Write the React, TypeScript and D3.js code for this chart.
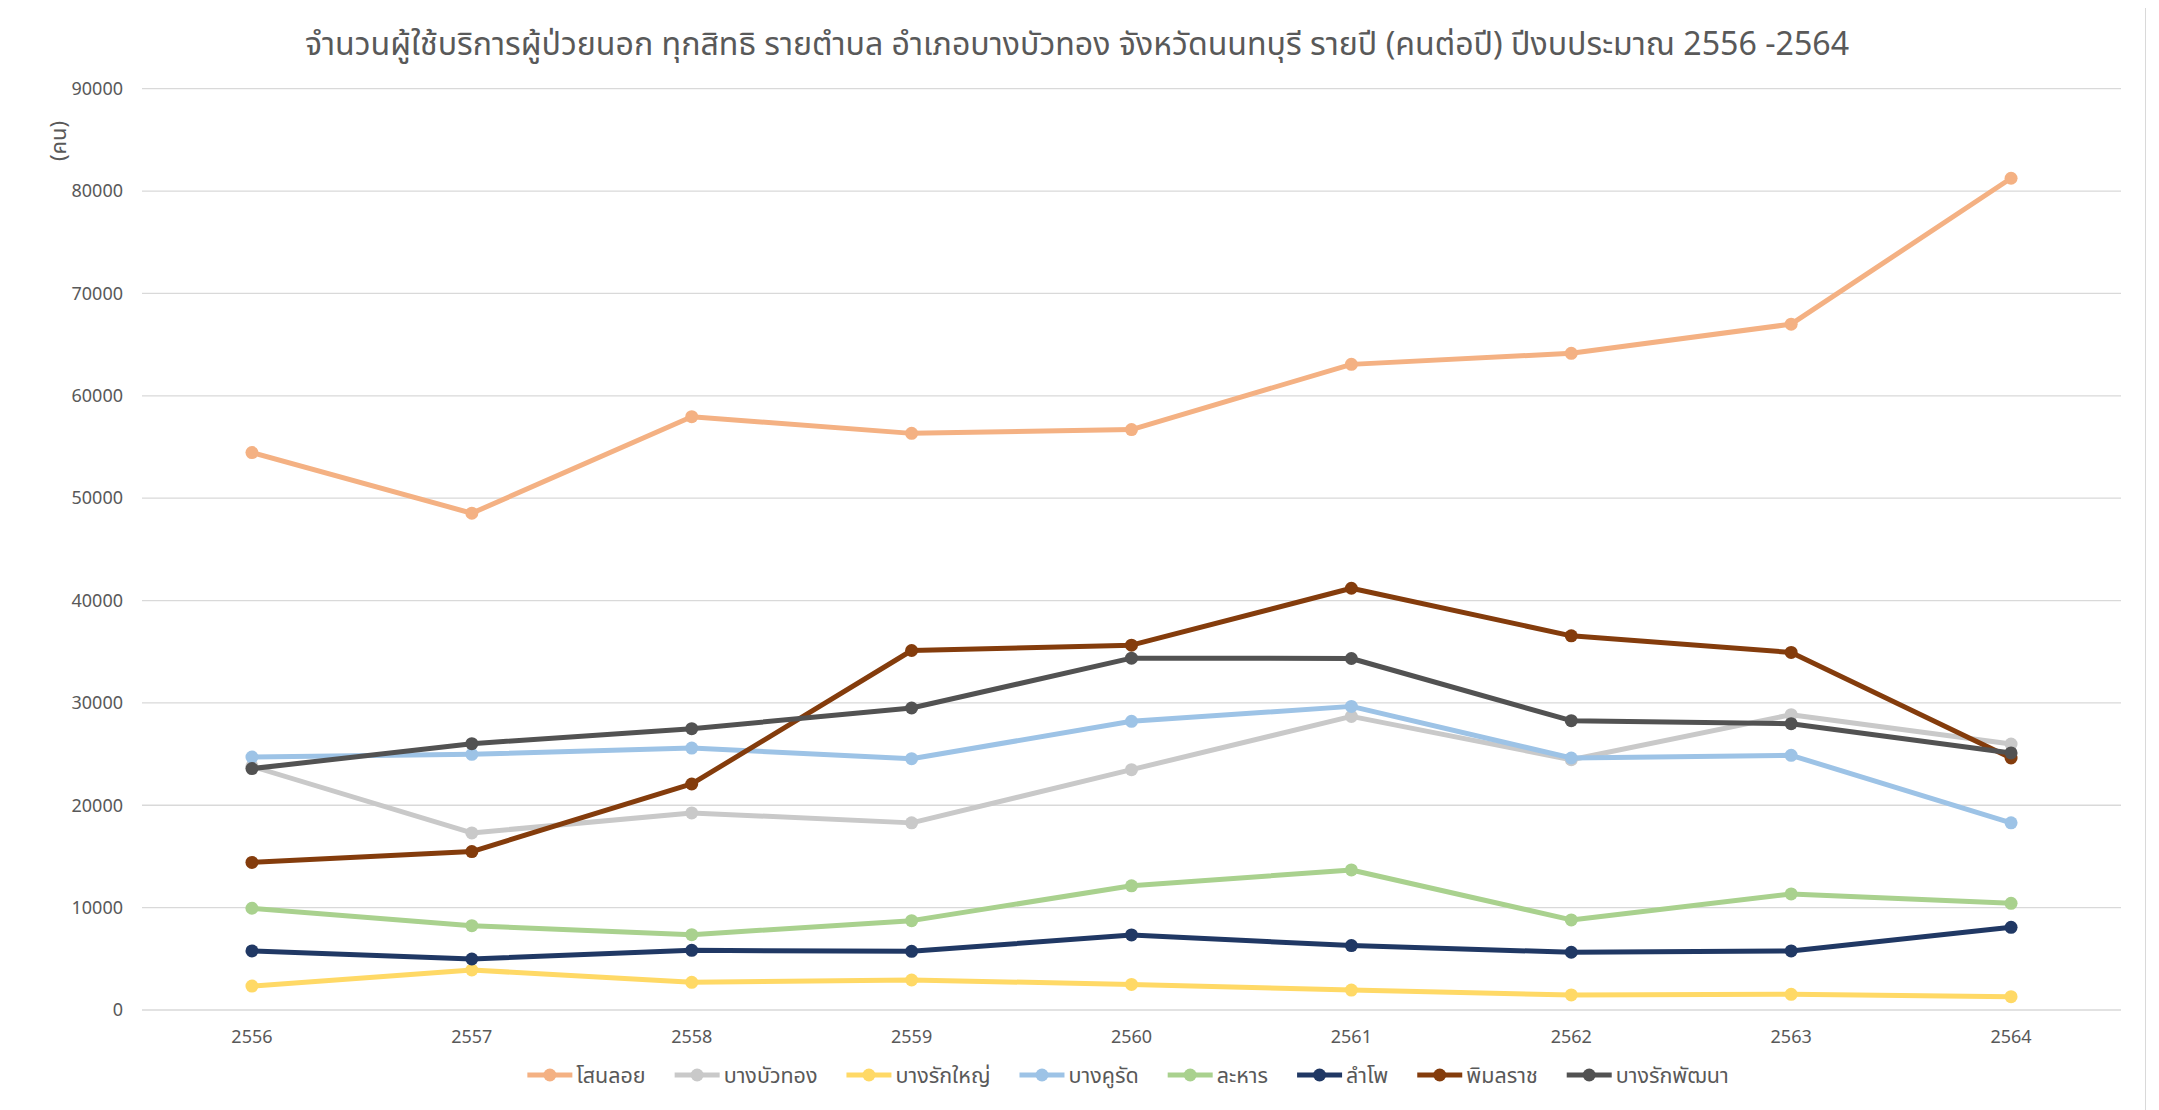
import React, { useEffect, useRef } from "react";
import * as d3 from "d3";

const years = ["2556", "2557", "2558", "2559", "2560", "2561", "2562", "2563", "2564"];
const seriesNames = ["โสนลอย", "บางบัวทอง", "บางรักใหญ่", "บางคูรัด", "ละหาร", "ลำโพ", "พิมลราช", "บางรักพัฒนา"];
const sanoloy = [54450, 48530, 57960, 56330, 56700, 63070, 64150, 67000, 81250];
const bangBuaThong = [23800, 17300, 19250, 18280, 23480, 28680, 24450, 28850, 25980];
const bangRakYai = [2340, 3910, 2700, 2930, 2500, 1950, 1470, 1530, 1300];
const bangKhuRat = [24710, 24980, 25590, 24550, 28200, 29660, 24620, 24880, 18280];
const lahan = [9940, 8240, 7360, 8730, 12130, 13680, 8800, 11340, 10420];
const lamPho = [5770, 4980, 5830, 5730, 7330, 6290, 5640, 5770, 8080];
const phimonrat = [14420, 15480, 22080, 35120, 35640, 41200, 36550, 34930, 24620];
const bangRakPhatthana = [23580, 26020, 27480, 29500, 34370, 34340, 28260, 27970, 25110];
const seriesValues = [sanoloy, bangBuaThong, bangRakYai, bangKhuRat, lahan, lamPho, phimonrat, bangRakPhatthana];
const colors = ["#F4B183", "#C9C9C9", "#FFD966", "#9DC3E6", "#A9D18E", "#203864", "#843C0C", "#525252"];
const yTicks = [0, 10000, 20000, 30000, 40000, 50000, 60000, 70000, 80000, 90000];
const title = "จำนวนผู้ใช้บริการผู้ป่วยนอก ทุกสิทธิ รายตำบล อำเภอบางบัวทอง จังหวัดนนทบุรี รายปี (คนต่อปี) ปีงบประมาณ 2556 -2564";
const yLabel = "(คน)";

const FONT = "'Noto Sans Thai', 'Leelawadee UI', Tahoma, 'Noto Sans', 'DejaVu Sans', sans-serif";

export default function App() {
  const ref = useRef<SVGSVGElement | null>(null);

  useEffect(() => {
    const svg = d3.select(ref.current);
    svg.selectAll("*").remove();
    const g = svg.append("g").attr("transform", "translate(-8,-8)");

    // chart border
    g.append("rect")
      .attr("x", 7.5).attr("y", 7.5).attr("width", 2138).attr("height", 1200)
      .attr("fill", "#fff").attr("stroke", "#D9D9D9").attr("stroke-width", 1);

    const x = d3.scaleBand<string>().domain(years).range([142, 2121]).padding(0);
    const y = d3.scaleLinear().domain([0, 90000]).range([1010, 88.7]);

    // gridlines
    g.append("g").selectAll("line").data(yTicks).join("line")
      .attr("x1", 142).attr("x2", 2121)
      .attr("y1", (d) => y(d)).attr("y2", (d) => y(d))
      .attr("stroke", "#D9D9D9").attr("stroke-width", 1.3);

    // y tick labels
    g.append("g").selectAll("text").data(yTicks).join("text")
      .attr("x", 123).attr("y", (d) => y(d))
      .attr("dy", "0.35em").attr("text-anchor", "end")
      .attr("font-family", FONT).attr("font-size", 18).attr("fill", "#595959")
      .text((d) => String(d));

    // x tick labels
    g.append("g").selectAll("text").data(years).join("text")
      .attr("x", (d) => (x(d) as number) + x.bandwidth() / 2).attr("y", 1037)
      .attr("dy", "0.35em").attr("text-anchor", "middle")
      .attr("font-family", FONT).attr("font-size", 18).attr("fill", "#595959")
      .text((d) => d);

    // title
    const t = g.append("text")
      .attr("x", 1077).attr("y", 44).attr("dy", "0.35em").attr("text-anchor", "middle")
      .attr("font-family", FONT).attr("font-size", 28).attr("fill", "#595959")
      .text(title);
    const tw = (t.node() as SVGTextElement).getComputedTextLength();
    if (tw > 0) t.attr("font-size", 28 * 1545 / tw);

    // y label
    g.append("text")
      .attr("transform", "translate(58,141) rotate(-90)")
      .attr("dy", "0.35em").attr("text-anchor", "middle")
      .attr("font-family", FONT).attr("font-size", 22).attr("fill", "#595959")
      .text(yLabel);

    const line = d3.line<number>()
      .x((_, i) => (x(years[i]) as number) + x.bandwidth() / 2)
      .y((d) => y(d));

    seriesValues.forEach((vals, si) => {
      const sg = g.append("g");
      sg.append("path").attr("d", line(vals) as string)
        .attr("fill", "none").attr("stroke", colors[si]).attr("stroke-width", 5)
        .attr("stroke-linejoin", "round").attr("stroke-linecap", "round");
      sg.selectAll("circle").data(vals).join("circle")
        .attr("cx", (_, i) => (x(years[i]) as number) + x.bandwidth() / 2)
        .attr("cy", (d) => y(d)).attr("r", 6.5).attr("fill", colors[si]);
    });

    // legend
    const lg = g.append("g");
    const items = seriesNames.map((name, i) => {
      const it = lg.append("g");
      it.append("line").attr("x1", 0).attr("x2", 45).attr("y1", 0).attr("y2", 0)
        .attr("stroke", colors[i]).attr("stroke-width", 5);
      it.append("circle").attr("cx", 22.5).attr("cy", 0).attr("r", 6.5).attr("fill", colors[i]);
      const tx = it.append("text").attr("x", 49).attr("y", 0).attr("dy", "0.35em")
        .attr("font-family", FONT).attr("font-size", 21.5).attr("fill", "#595959").text(name);
      const w = (tx.node() as SVGTextElement).getComputedTextLength();
      return { it, w: 49 + w };
    });
    const gap = 29;
    const total = items.reduce((s, d) => s + d.w, 0) + gap * (items.length - 1);
    let cx = 1128 - total / 2;
    items.forEach((d) => {
      d.it.attr("transform", `translate(${cx},1075)`);
      cx += d.w + gap;
    });
  }, []);

  return <svg ref={ref} width={2143} height={1102} style={{ display: "block" }} />;
}
